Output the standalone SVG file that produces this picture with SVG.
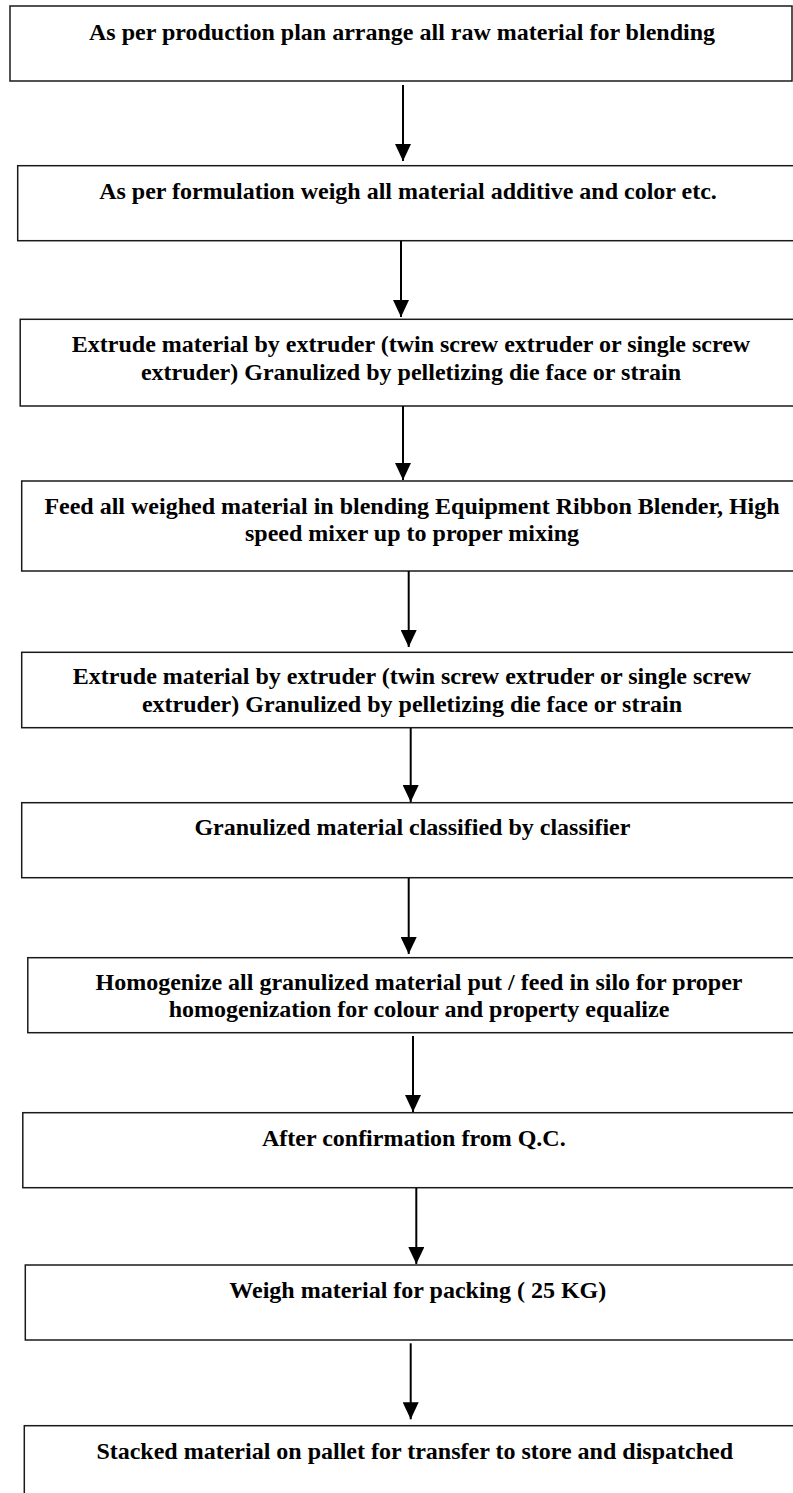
<svg xmlns="http://www.w3.org/2000/svg" width="793" height="1493" viewBox="0 0 793 1493">
<style>
.box{fill:#fff;stroke:#1a1a1a;stroke-width:1.5}
.t{font-family:"Liberation Serif","Times New Roman",serif;font-weight:bold;font-size:24px;fill:#000;text-anchor:middle}
.c{stroke:#000;stroke-width:2;fill:none;marker-end:url(#ah)}
</style>
<defs>
<marker id="ah" markerUnits="userSpaceOnUse" markerWidth="18" markerHeight="16" refX="17" refY="8" orient="auto" viewBox="0 0 18 16">
<path d="M0,0 L17,8 L0,16 Z" fill="#000"/>
</marker>
</defs>
<rect width="793" height="1493" fill="#fff"/>
<g id="n1"><rect class="box" x="10" y="6" width="782" height="75"/><text class="t" x="402" y="40">As per production plan arrange all raw material for blending</text></g>
<g id="n2"><rect class="box" x="17.7" y="165.7" width="790" height="75"/><text class="t" x="408" y="199">As per formulation weigh all material additive and color etc.</text></g>
<g id="n3"><rect class="box" x="20.2" y="319.3" width="790" height="86.7"/><text class="t" x="411" y="351.7">Extrude material by extruder (twin screw extruder or single screw</text><text class="t" x="411" y="380">extruder) Granulized by pelletizing die face or strain</text></g>
<g id="n4"><rect class="box" x="21.7" y="481" width="790" height="90"/><text class="t" x="412" y="514">Feed all weighed material in blending Equipment Ribbon Blender, High</text><text class="t" x="412" y="541">speed mixer up to proper mixing</text></g>
<g id="n5"><rect class="box" x="21.7" y="652.3" width="790" height="75.4"/><text class="t" x="412" y="684">Extrude material by extruder (twin screw extruder or single screw</text><text class="t" x="412" y="712.3">extruder) Granulized by pelletizing die face or strain</text></g>
<g id="n6"><rect class="box" x="21.7" y="802.7" width="790" height="75"/><text class="t" x="412.4" y="835">Granulized material classified by classifier</text></g>
<g id="n7"><rect class="box" x="27.8" y="957.7" width="790" height="75"/><text class="t" x="419" y="990">Homogenize all granulized material put / feed in silo for proper</text><text class="t" x="419" y="1016.7">homogenization for colour and property equalize</text></g>
<g id="n8"><rect class="box" x="22.8" y="1112.7" width="790" height="75"/><text class="t" x="413.8" y="1146">After confirmation from Q.C.</text></g>
<g id="n9"><rect class="box" x="25.3" y="1265" width="790" height="75"/><text class="t" x="417.8" y="1298">Weigh material for packing ( 25 KG)</text></g>
<g id="n10"><rect class="box" x="24.3" y="1425.7" width="790" height="80"/><text class="t" x="414.7" y="1459">Stacked material on pallet for transfer to store and dispatched</text></g>
<g id="connectors">
<line class="c" x1="403" y1="85" x2="403" y2="161"/>
<line class="c" x1="401" y1="241" x2="401" y2="317"/>
<line class="c" x1="403" y1="406" x2="403" y2="480"/>
<line class="c" x1="408.7" y1="571" x2="408.7" y2="647"/>
<line class="c" x1="410.7" y1="728" x2="410.7" y2="802"/>
<line class="c" x1="408.7" y1="878" x2="408.7" y2="954"/>
<line class="c" x1="413" y1="1036" x2="413" y2="1112"/>
<line class="c" x1="416.3" y1="1188" x2="416.3" y2="1264"/>
<line class="c" x1="410.7" y1="1343.3" x2="410.7" y2="1419.3"/>
</g>
</svg>
